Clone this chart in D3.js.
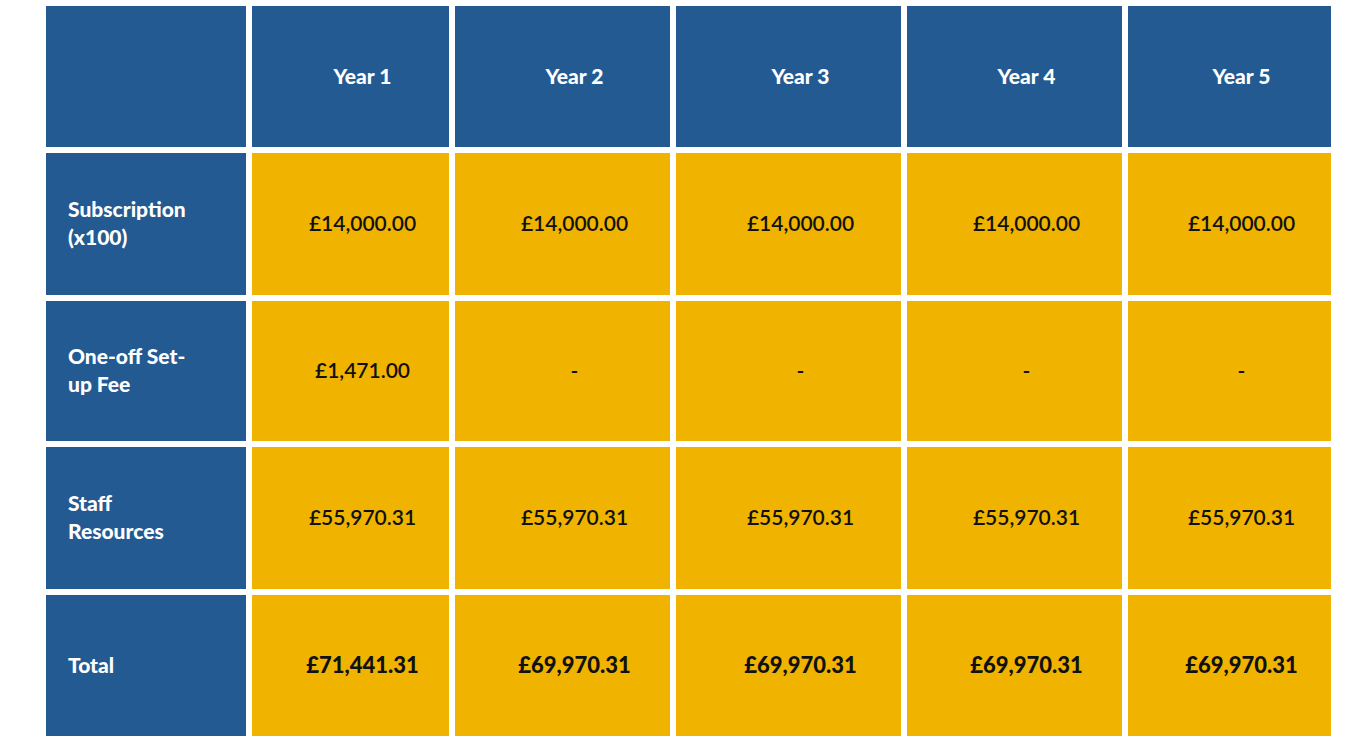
<!DOCTYPE html><html><head><meta charset="utf-8"><script src="https://cdn.jsdelivr.net/npm/d3@7"></script>
<style>body{margin:0;background:#fff}</style></head><body><svg id="c" width="1360" height="749"></svg>
<script>
const columns=["Year 1","Year 2","Year 3","Year 4","Year 5"];
const rowLabels=[["Subscription","(x100)"],["One-off Set-","up Fee"],["Staff","Resources"],["Total"]];
const subscription=["£14,000.00","£14,000.00","£14,000.00","£14,000.00","£14,000.00"];
const setupFee=["£1,471.00","-","-","-","-"];
const staff=["£55,970.31","£55,970.31","£55,970.31","£55,970.31","£55,970.31"];
const totals=["£71,441.31","£69,970.31","£69,970.31","£69,970.31","£69,970.31"];
const rows=[subscription,setupFee,staff,totals];
const colEdges=[[46,246],[252,449],[455,670],[676,901],[907,1122],[1128,1331]];
const rowEdges=[[6,147],[153,295],[301,441],[447,589],[595,736]];
const blue="#235a92",yellow="#f0b400";
const svg=d3.select("#c");
const F="Lato, 'Open Sans', sans-serif";
rowEdges.forEach((r,ri)=>{colEdges.forEach((c,ci)=>{
  const isBlue=ri===0||ci===0;
  svg.append("rect").attr("x",c[0]).attr("y",r[0]).attr("width",c[1]-c[0]).attr("height",r[1]-r[0]).attr("fill",isBlue?blue:yellow);
  const cy=(r[0]+r[1])/2;
  if(ri===0&&ci>0){
    svg.append("text").attr("x",(c[0]+c[1])/2+12).attr("y",cy).attr("dy","0.35em").attr("text-anchor","middle")
      .attr("fill","#fff").attr("font-family",F).attr("font-weight",900).attr("font-size",21).text(columns[ci-1]);
  } else if(ri>0&&ci===0){
    const lines=rowLabels[ri-1];
    lines.forEach((l,li)=>svg.append("text").attr("x",68).attr("y",cy+(li-(lines.length-1)/2)*28).attr("dy","0.35em")
      .attr("fill","#fff").attr("font-family",F).attr("font-weight",900).attr("font-size",21).text(l));
  } else if(ri>0){
    const tot=ri===4;
    svg.append("text").attr("x",(c[0]+c[1])/2+12).attr("y",cy).attr("dy","0.35em").attr("text-anchor","middle")
      .attr("fill","#111").attr("font-family",F).attr("font-weight",tot?900:600).attr("font-size",tot?22:21).text(rows[ri-1][ci-1]);
  }
});});
</script></body></html>
